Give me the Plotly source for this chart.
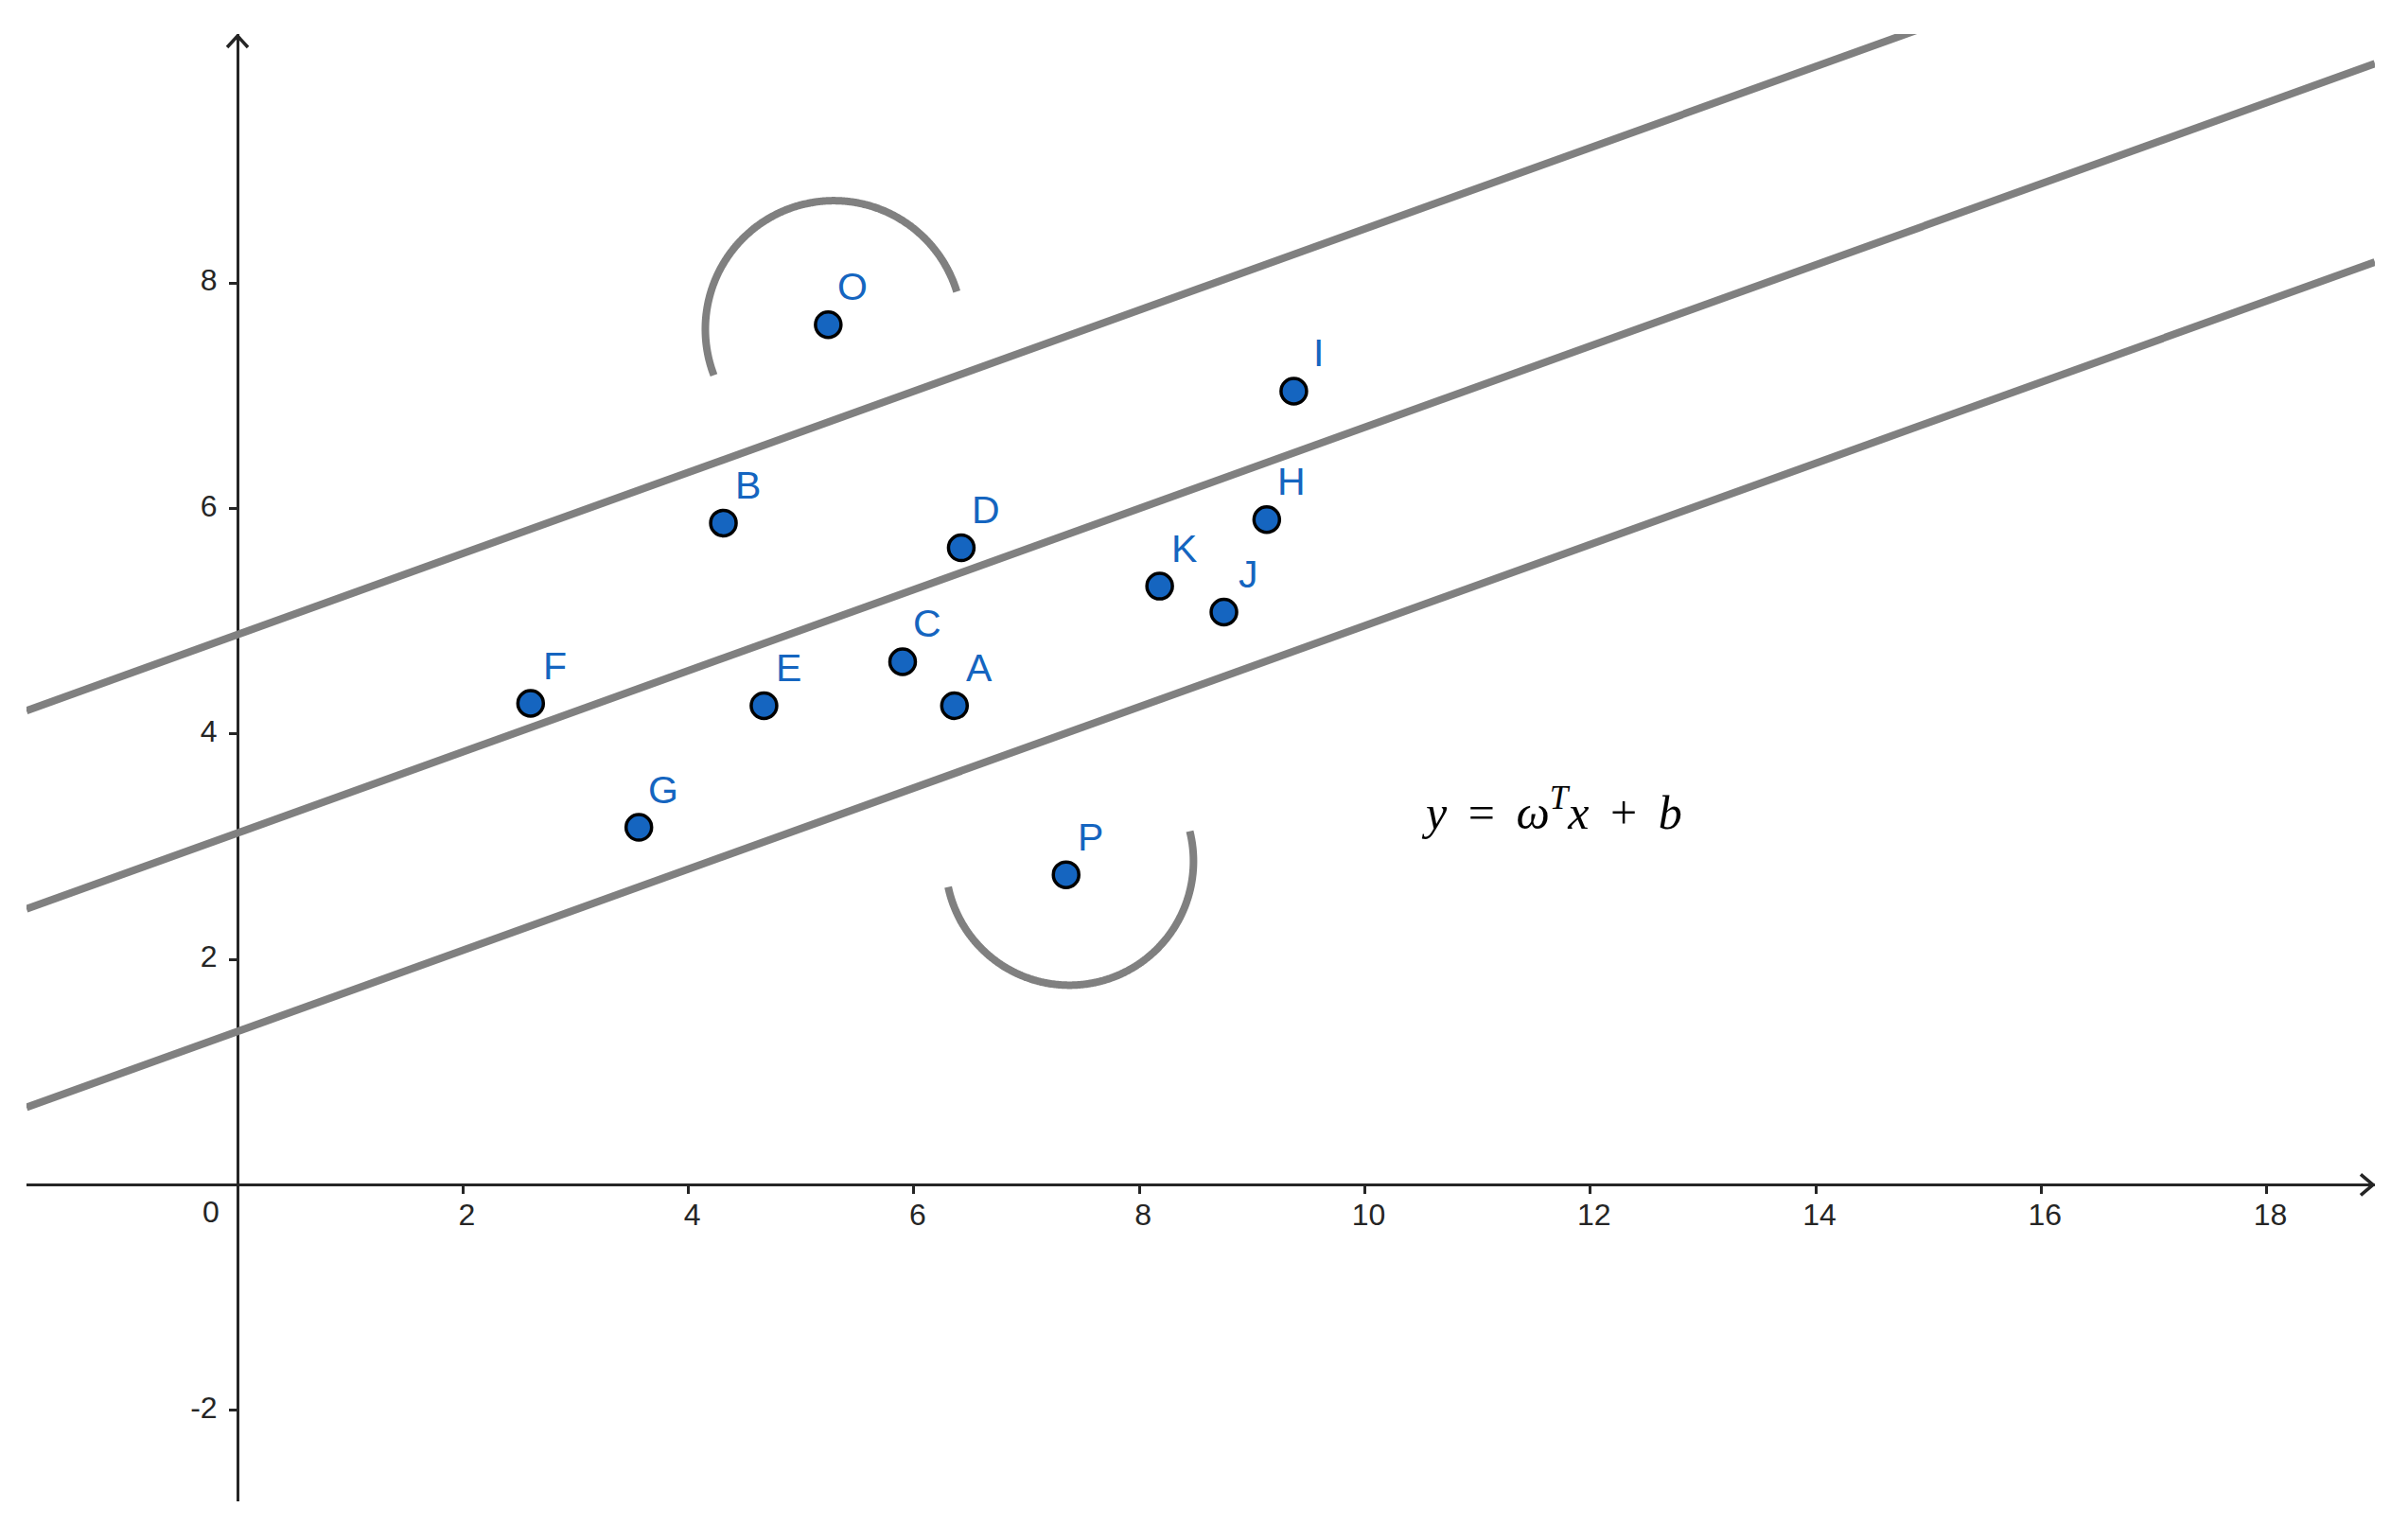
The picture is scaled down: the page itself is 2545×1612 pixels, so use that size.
import numpy as np
import plotly.graph_objects as go

# points of the data set
point_names = ["A", "B", "C", "D", "E", "F", "G", "H", "I", "J", "K", "O", "P"]
point_x = [6.36, 4.31, 5.90, 6.42, 4.67, 2.60, 3.56, 9.13, 9.37, 8.75, 8.18, 5.24, 7.35]
point_y = [4.25, 5.87, 4.64, 5.65, 4.25, 4.27, 3.17, 5.90, 7.04, 5.08, 5.31, 7.63, 2.75]

# separating line and the two margins
line_slope = 0.36
line_intercepts = [4.88, 3.12, 1.36]

# half circles round the outliers O and P
arc_cx = [5.29, 7.38]
arc_cy = [7.59, 2.87]
arc_r = [1.14, 1.10]
arc_start = [17, 192]
arc_end = [201, 374]

x_ticks = [2, 4, 6, 8, 10, 12, 14, 16, 18]
y_ticks = [-2, 2, 4, 6, 8]

x_range = [-1.872, 18.96]
y_range = [-2.809, 10.208]

W, H = 2545, 1612
LINE_GREY = "#808080"
AXIS = "#252525"
BLUE = "#1565C0"

fig = go.Figure()

# lines
xs = np.array(x_range)
for b in line_intercepts:
    fig.add_trace(go.Scatter(x=xs, y=line_slope * xs + b, mode="lines",
                             line=dict(color=LINE_GREY, width=8), hoverinfo="skip"))

# arcs
for cx, cy, r, a0, a1 in zip(arc_cx, arc_cy, arc_r, arc_start, arc_end):
    t = np.radians(np.linspace(a0, a1, 300))
    fig.add_trace(go.Scatter(x=cx + r * np.cos(t), y=cy + r * np.sin(t), mode="lines",
                             line=dict(color=LINE_GREY, width=8, shape="spline"), hoverinfo="skip"))

# points
fig.add_trace(go.Scatter(x=point_x, y=point_y, mode="markers", text=point_names,
                         marker=dict(size=27, color=BLUE, line=dict(color="black", width=3.5)),
                         hoverinfo="text"))

annotations = []
for name, px, py in zip(point_names, point_x, point_y):
    annotations.append(dict(x=px, y=py, text=name, showarrow=False, xshift=26, yshift=40,
                            font=dict(family="Liberation Sans, Arial", size=41, color=BLUE)))

annotations.append(dict(x=0, y=0, text="0", showarrow=False, xshift=-28, yshift=-29,
                        font=dict(family="Liberation Sans, Arial", size=32, color=AXIS)))

sp = "\u00a0\u2009"
annotations.append(dict(x=11.66, y=3.33, showarrow=False,
                        text="<i>y</i>" + sp + "=" + sp + "<i>\u03c9</i><sup><i>T</i></sup><i>x</i>" + sp + "+" + sp + "<i>b</i>",
                        font=dict(family="Liberation Serif, Times New Roman", size=50, color="black")))

# arrow heads on the axes
shapes = [
    dict(type="path", xref="x", yref="y", xsizemode="pixel", ysizemode="pixel",
         xanchor=x_range[1], yanchor=0, path="M -15,11 L -2,0 L -15,-11",
         line=dict(color=AXIS, width=3.5)),
    dict(type="path", xref="x", yref="y", xsizemode="pixel", ysizemode="pixel",
         xanchor=0, yanchor=y_range[1], path="M -11,-14 L 0,-2 L 11,-14",
         line=dict(color=AXIS, width=3.5)),
]

tick_font = dict(family="Liberation Sans, Arial", size=32, color=AXIS)

# the page body has an 8px margin, so the plot area is pulled back by that much
fig.update_layout(
    width=W, height=H, autosize=False,
    margin=dict(l=20, r=43, t=28, b=33),
    paper_bgcolor="white", plot_bgcolor="white",
    showlegend=False,
    annotations=annotations,
    shapes=shapes,
    xaxis=dict(range=x_range, anchor="free",
               position=-y_range[0] / (y_range[1] - y_range[0]),
               showgrid=False, zeroline=False, showline=True, linecolor=AXIS, linewidth=3,
               ticks="outside", ticklen=8, tickwidth=3, tickcolor=AXIS,
               tickvals=x_ticks, ticktext=[str(v) for v in x_ticks],
               ticklabelstandoff=-6, ticklabelshift=4,
               tickfont=tick_font, layer="below traces"),
    yaxis=dict(range=y_range, anchor="free",
               position=-x_range[0] / (x_range[1] - x_range[0]),
               showgrid=False, zeroline=False, showline=True, linecolor=AXIS, linewidth=3,
               ticks="outside", ticklen=8, tickwidth=3, tickcolor=AXIS,
               tickvals=y_ticks, ticktext=[str(v) for v in y_ticks],
               ticklabelstandoff=6, ticklabelshift=-3,
               tickfont=tick_font, layer="below traces"),
)

fig.write_html("out.html")
